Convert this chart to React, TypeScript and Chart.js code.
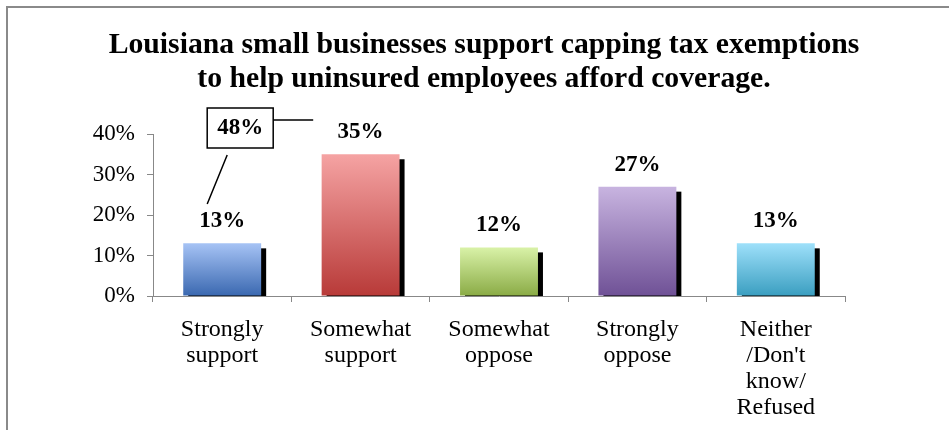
import React, { useEffect, useRef } from "react";
import { Chart, registerables } from "chart.js";

Chart.register(...registerables);

const titleLines = [
  "Louisiana small businesses support capping tax exemptions",
  "to help uninsured employees afford coverage.",
];
const categories: string[][] = [
  ["Strongly", "support"],
  ["Somewhat", "support"],
  ["Somewhat", "oppose"],
  ["Strongly", "oppose"],
  ["Neither", "/Don't", "know/", "Refused"],
];
const values = [0.13, 0.35, 0.12, 0.27, 0.13];
const valueLabels = ["13%", "35%", "12%", "27%", "13%"];
const calloutLabel = "48%";
const yTicks = [0, 0.1, 0.2, 0.3, 0.4];
const gradientTops = ["#a6c3f5", "#f5a3a3", "#d9f2a8", "#c8b4e0", "#9ee0fa"];
const gradientBottoms = ["#3a68b0", "#b83a38", "#8aab45", "#6f5196", "#3a9ec0"];

const SERIF = "'Liberation Serif', 'Times New Roman', serif";

export default function App() {
  const ref = useRef<HTMLCanvasElement | null>(null);

  useEffect(() => {
    document.body.style.margin = "0";
    const canvas = ref.current!;
    const decor = {
      id: "decor",
      beforeDatasetsDraw(chart: any) {
        const ctx = chart.ctx;
        const meta = chart.getDatasetMeta(0);
        const base = chart.scales.y.getPixelForValue(0);
        ctx.save();
        ctx.fillStyle = "#000";
        meta.data.forEach((bar: any) => {
          const half = bar.width / 2;
          ctx.fillRect(bar.x - half + 5, bar.y + 5, bar.width, base - bar.y - 5);
        });
        ctx.restore();
      },
      afterDraw(chart: any) {
        const ctx = chart.ctx;
        ctx.save();
        // page border
        ctx.strokeStyle = "#8a8a8a";
        ctx.lineWidth = 2;
        ctx.beginPath();
        ctx.moveTo(7, 430);
        ctx.lineTo(7, 7);
        ctx.lineTo(949, 7);
        ctx.stroke();
        // title
        ctx.fillStyle = "#000";
        ctx.textAlign = "center";
        ctx.textBaseline = "alphabetic";
        ctx.font = `bold 29.7px ${SERIF}`;
        titleLines.forEach((t, i) => ctx.fillText(t, 484, 53 + i * 34));
        // value labels
        const meta = chart.getDatasetMeta(0);
        ctx.font = `bold 23px ${SERIF}`;
        meta.data.forEach((bar: any, i: number) => {
          ctx.fillText(valueLabels[i], bar.x, bar.y - 16);
        });
        // callout
        const b0 = meta.data[0];
        const top = chart.chartArea.top;
        const bx = b0.x - 15;
        const by = top - 26;
        ctx.strokeStyle = "#000";
        ctx.lineWidth = 1.5;
        ctx.strokeRect(bx, by, 66, 40);
        ctx.fillText(calloutLabel, bx + 33, by + 26);
        ctx.beginPath();
        ctx.moveTo(bx + 66, by + 12);
        ctx.lineTo(bx + 106, by + 12);
        ctx.moveTo(bx + 20, by + 47);
        ctx.lineTo(bx, by + 96);
        ctx.stroke();
        ctx.restore();
      },
    };

    const chart = new Chart(canvas, {
      type: "bar",
      data: {
        labels: categories,
        datasets: [
          {
            data: values,
            categoryPercentage: 0.563,
            barPercentage: 1,
            borderWidth: 0,
            backgroundColor: (c: any) => {
              const ch = c.chart;
              const i = c.dataIndex;
              if (!ch.chartArea || !ch.scales.y || i === undefined) return gradientTops[i ?? 0];
              const y0 = ch.scales.y.getPixelForValue(values[i]);
              const y1 = ch.scales.y.getPixelForValue(0);
              const g = ch.ctx.createLinearGradient(0, y0, 0, y1);
              g.addColorStop(0, gradientTops[i]);
              g.addColorStop(1, gradientBottoms[i]);
              return g;
            },
          },
        ],
      },
      options: {
        responsive: false,
        animation: false,
        events: [],
        layout: { padding: { top: 134, right: 104, left: 0, bottom: 0 } },
        plugins: {
          legend: { display: false },
          title: { display: false },
          tooltip: { enabled: false },
        },
        scales: {
          x: {
            offset: true,
            afterFit: (s: any) => {
              s.height = 134;
            },
            grid: {
              offset: true,
              drawOnChartArea: false,
              drawTicks: true,
              tickLength: 6,
              color: "#888",
            },
            border: { color: "#888", width: 1 },
            ticks: {
              color: "#000",
              padding: 15,
              maxRotation: 0,
              autoSkip: false,
              font: { family: SERIF, size: 24, lineHeight: 1.08 },
            },
          },
          y: {
            min: 0,
            max: 0.4,
            afterFit: (s: any) => {
              s.width = 153;
            },
            afterBuildTicks: (s: any) => {
              s.ticks = yTicks.map((v) => ({ value: v }));
            },
            grid: {
              drawOnChartArea: false,
              drawTicks: true,
              tickLength: 6,
              color: "#888",
            },
            border: { color: "#888", width: 1 },
            ticks: {
              color: "#000",
              padding: 12,
              font: { family: SERIF, size: 23 },
              callback: (v: any) => `${Math.round(Number(v) * 100)}%`,
            },
          },
        },
      },
      plugins: [decor],
    });
    return () => chart.destroy();
  }, []);

  return <canvas ref={ref} width={949} height={430} style={{ display: "block" }} />;
}
